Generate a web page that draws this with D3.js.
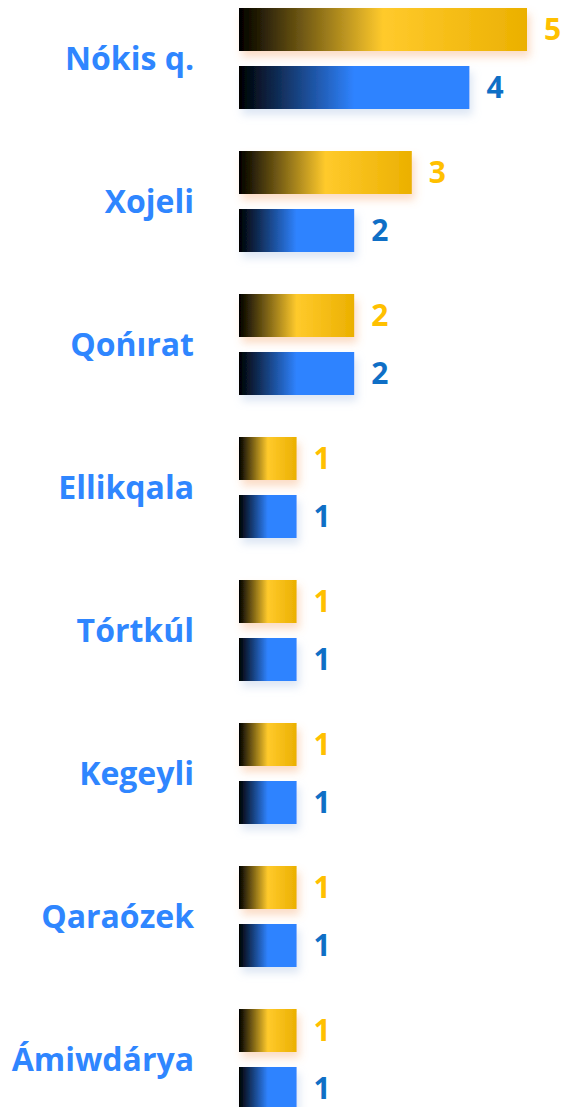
<!DOCTYPE html>
<html>
<head>
<meta charset="utf-8">
<script src="https://cdn.jsdelivr.net/npm/d3@7"></script>
<style>
  body { margin: 0; background: #fff; }
  svg text { font-family: "Open Sans", "Noto Sans", sans-serif; font-weight: bold; }
</style>
</head>
<body>
<svg id="chart" width="565" height="1107"></svg>
<script>
// data
var districts = ["Nókis q.", "Xojeli", "Qońırat", "Ellikqala", "Tórtkúl", "Kegeyli", "Qaraózek", "Ámiwdárya"];
var goldValues = [5, 3, 2, 1, 1, 1, 1, 1];
var blueValues = [4, 2, 2, 1, 1, 1, 1, 1];

var svg = d3.select("#chart");

var x = d3.scaleLinear().domain([0, 5]).range([239, 527]);
var y = d3.scaleBand().domain(districts).range([0, 1144]).paddingInner(0).paddingOuter(0);
var barH = 43;

var defs = svg.append("defs");

var gGold = defs.append("linearGradient").attr("id", "goldGrad");
gGold.append("stop").attr("offset", "0%").attr("stop-color", "#000000");
gGold.append("stop").attr("offset", "50%").attr("stop-color", "#ffca2c");
gGold.append("stop").attr("offset", "100%").attr("stop-color", "#ebb000");

var gBlue = defs.append("linearGradient").attr("id", "blueGrad");
gBlue.append("stop").attr("offset", "0%").attr("stop-color", "#000000");
gBlue.append("stop").attr("offset", "50%").attr("stop-color", "#2f83ff");
gBlue.append("stop").attr("offset", "100%").attr("stop-color", "#2f83ff");

function shadow(id, color) {
    var f = defs.append("filter").attr("id", id)
        .attr("x", "-20%").attr("y", "-30%").attr("width", "150%").attr("height", "180%");
    f.append("feDropShadow").attr("dx", 3).attr("dy", 6).attr("stdDeviation", 4.5)
        .attr("flood-color", color).attr("flood-opacity", 0.35);
}
shadow("goldShadow", "#f59a5a");
shadow("blueShadow", "#9db8e0");

var rows = districts.map(function (d, i) {
    return { name: d, gold: goldValues[i], blue: blueValues[i] };
});

var groups = svg.selectAll("g.row")
    .data(rows)
    .enter()
    .append("g")
    .attr("class", "row")
    .attr("transform", function (d) { return "translate(0," + y(d.name) + ")"; });

// gold bars
groups.append("rect")
    .attr("x", x(0))
    .attr("y", 8)
    .attr("width", function (d) { return x(d.gold) - x(0); })
    .attr("height", barH)
    .attr("fill", "url(#goldGrad)")
    .attr("filter", "url(#goldShadow)");

// blue bars
groups.append("rect")
    .attr("x", x(0))
    .attr("y", 66)
    .attr("width", function (d) { return x(d.blue) - x(0); })
    .attr("height", barH)
    .attr("fill", "url(#blueGrad)")
    .attr("filter", "url(#blueShadow)");

// value labels
groups.append("text")
    .attr("x", function (d) { return x(d.gold) + 17; })
    .attr("y", 8 + barH / 2)
    .attr("dy", "0.36em")
    .attr("font-size", 30)
    .attr("fill", "#ffc000")
    .text(function (d) { return d.gold; });

groups.append("text")
    .attr("x", function (d) { return x(d.blue) + 17; })
    .attr("y", 66 + barH / 2)
    .attr("dy", "0.36em")
    .attr("font-size", 30)
    .attr("fill", "#0f6fc6")
    .text(function (d) { return d.blue; });

// category labels
groups.append("text")
    .attr("x", 194)
    .attr("y", 58)
    .attr("dy", "0.36em")
    .attr("text-anchor", "end")
    .attr("font-size", 32)
    .attr("fill", "#2f86ff")
    .text(function (d) { return d.name; });
</script>
</body>
</html>
